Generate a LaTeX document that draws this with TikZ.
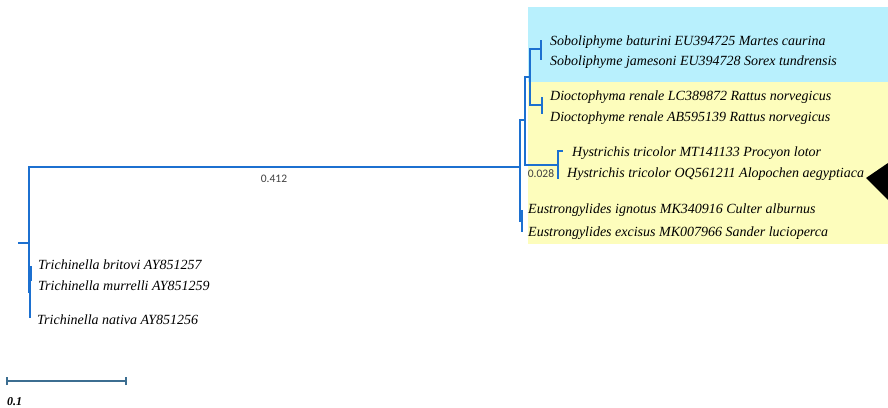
\documentclass[tikz,border=0pt]{standalone}
\usepackage{fontspec}
\setmainfont{Liberation Serif}
\newfontfamily\supfont{Carlito}
\definecolor{treeblue}{RGB}{28,112,208}
\definecolor{barblue}{RGB}{60,110,145}
\definecolor{cladecyan}{RGB}{184,240,253}
\definecolor{cladeyellow}{RGB}{253,253,188}
\begin{document}
\begin{tikzpicture}
            [x=1pt,y=-1pt,
             Branch/.style={draw=treeblue,line width=2.3pt},
             Taxon/.style={anchor=west,inner sep=0pt,font=\fontsize{14}{16}\selectfont\itshape},
             Support/.style={inner sep=0pt,text=black!75,font=\supfont\fontsize{11.5}{13}\selectfont}];
            \useasboundingbox (0,0) rectangle (888,407);
            % clade shading
            \fill[cladecyan] (528,7) rectangle (888,82);
            \fill[cladeyellow] (528,82) rectangle (888,244);
            \fill[black] (866,178) -- (888,163) -- (888,200) -- cycle;
            % internal nodes
            \coordinate (root) at (18,243);
            \coordinate (r) at (29,243);
            \coordinate (dio) at (520,167);
            \coordinate (a) at (520,120);
            \coordinate (b) at (525,120);
            \coordinate (c) at (530,77);
            \coordinate (sob) at (541,49);
            \coordinate (dct) at (542,105);
            \coordinate (hys) at (558,165);
            \coordinate (eus) at (522,221);
            \coordinate (tri) at (30,292);
            \coordinate (tbm) at (31,273);
            % tips
            \coordinate (t1) at (541,40);
            \coordinate (t2) at (541,60);
            \coordinate (t3) at (542,97);
            \coordinate (t4) at (542,114);
            \coordinate (t5) at (563,151);
            \coordinate (t6) at (558,179);
            \coordinate (t7) at (522,210);
            \coordinate (t8) at (522,232);
            \coordinate (t9) at (31,266);
            \coordinate (t10) at (31,281);
            \coordinate (t11) at (30,318);
            % branches
            \draw [Branch](root) to (r);
            \draw [Branch](r) |- (dio);
            \draw [Branch](r) |- (tri);
            \draw [Branch](dio) -- (a) -- (b);
            \draw [Branch](dio) |- (eus);
            \draw [Branch](b) |- (c);
            \draw [Branch](b) |- (hys);
            \draw [Branch](c) |- (sob);
            \draw [Branch](c) |- (dct);
            \draw [Branch](sob) -- (t1);
            \draw [Branch](sob) -- (t2);
            \draw [Branch](dct) -- (t3);
            \draw [Branch](dct) -- (t4);
            \draw [Branch](hys) |- (t5);
            \draw [Branch](hys) -- (t6);
            \draw [Branch](eus) -- (t7);
            \draw [Branch](eus) -- (t8);
            \draw [Branch](tri) |- (tbm);
            \draw [Branch](tri) -- (t11);
            \draw [Branch](tbm) -- (t9);
            \draw [Branch](tbm) -- (t10);
            % taxa
            \node[Taxon] (l1) at (550,42) {Soboliphyme baturini EU394725 Martes caurina};
            \node[Taxon] (l2) at (550,62) {Soboliphyme jamesoni EU394728 Sorex tundrensis};
            \node[Taxon] (l3) at (550,97) {Dioctophyma renale LC389872 Rattus norvegicus};
            \node[Taxon] (l4) at (550,118) {Dioctophyme renale AB595139 Rattus norvegicus};
            \node[Taxon] (l5) at (572,153) {Hystrichis tricolor MT141133 Procyon lotor};
            \node[Taxon] (l6) at (567,174) {Hystrichis tricolor OQ561211 Alopochen aegyptiaca};
            \node[Taxon] (l7) at (528,210) {Eustrongylides ignotus MK340916 Culter alburnus};
            \node[Taxon] (l8) at (528,233) {Eustrongylides excisus MK007966 Sander lucioperca};
            \node[Taxon] (l9) at (38,265) {Trichinella britovi AY851257};
            \node[Taxon] (l10) at (38,286) {Trichinella murrelli AY851259};
            \node[Taxon] (l11) at (37,320) {Trichinella nativa AY851256};
            % support values
            \node[Support] (s1) at (274,179) {0.412};
            \node[Support] (s2) at (541,174) {0.028};
            % scale bar
            \coordinate (sb1) at (7,381);
            \coordinate (sb2) at (126,381);
            \draw [barblue,line width=1.5pt](sb1) to (sb2);
            \draw [barblue,line width=1.5pt]([yshift=-4pt]sb1) to ([yshift=4pt]sb1);
            \draw [barblue,line width=1.5pt]([yshift=-4pt]sb2) to ([yshift=4pt]sb2);
            \node[anchor=west,inner sep=0pt,font=\fontsize{12}{14}\selectfont\bfseries\itshape] (sbl) at (7,402) {0.1};
        \end{tikzpicture}
\end{document}
